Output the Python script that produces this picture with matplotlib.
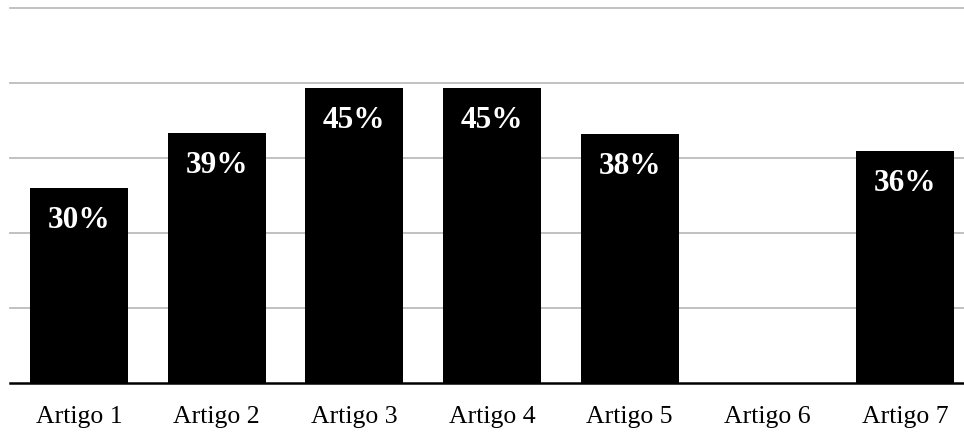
import matplotlib
matplotlib.use("Agg")
import matplotlib.pyplot as plt
import numpy as np

# Categories and values (bar heights read on the gridline scale, 0..5)
categories = ["Artigo 1", "Artigo 2", "Artigo 3", "Artigo 4", "Artigo 5", "Artigo 6", "Artigo 7"]
heights = [2.60, 3.34, 3.93, 3.94, 3.32, 0.0, 3.10]
bar_labels = ["30%", "39%", "45%", "45%", "38%", None, "36%"]

plt.rcParams['font.family'] = ['Liberation Serif', 'DejaVu Serif']

fig = plt.figure(figsize=(9.64, 4.32), dpi=100)
# axes run slightly past the right edge, like the cropped original
ax = fig.add_axes([10 / 964, 48.7 / 432, 964 / 964, 375.3 / 432])

x = np.arange(len(categories))
bars = ax.bar(x, heights, width=0.712, color='black', edgecolor='none', zorder=3)

ax.set_xlim(-0.5, len(categories) - 0.5)
ax.set_ylim(0, 5)

# light grey horizontal gridlines
for yv in range(1, 6):
    ax.axhline(yv, color='#bcbcbc', linewidth=1.3, zorder=1, clip_on=False)
# black baseline
ax.axhline(0, color='black', linewidth=1.8, zorder=4, clip_on=False)

for spine in ax.spines.values():
    spine.set_visible(False)

ax.set_yticks([])
ax.set_xticks(x)
ax.set_xticklabels(categories, fontsize=18.5)
ax.tick_params(axis='x', length=0, pad=16.5)

# value labels inside the top of each bar
for bar, lab in zip(bars, bar_labels):
    if lab is None:
        continue
    ax.annotate(lab, xy=(bar.get_x() + bar.get_width() / 2, bar.get_height()),
                xytext=(0, -23.5), textcoords='offset points',
                ha='center', va='center', color='white',
                fontsize=22.5, fontweight='bold', zorder=5)

plt.savefig("out.png", dpi=100)
